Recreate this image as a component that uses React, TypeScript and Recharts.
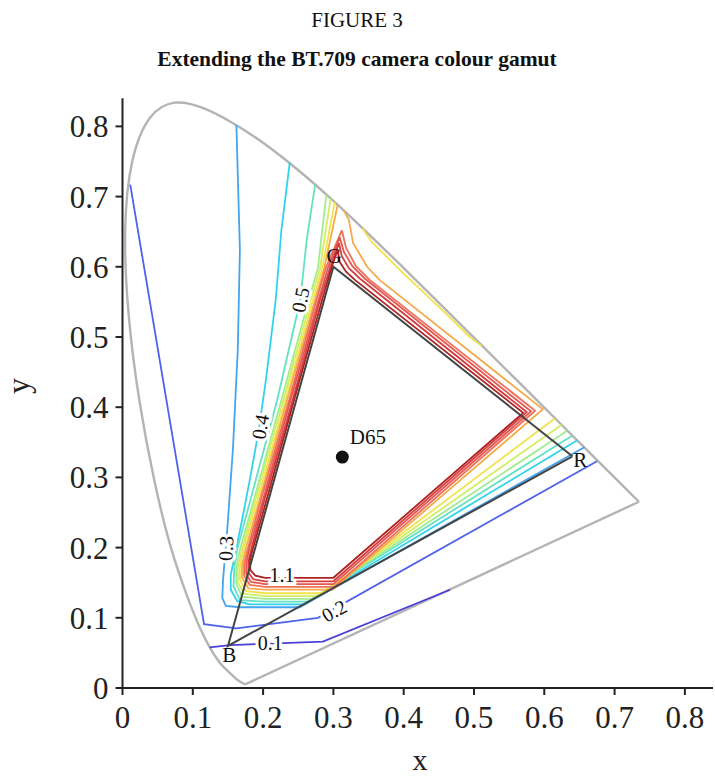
import { ComposedChart, Line, Scatter, XAxis, YAxis } from "recharts"

const serif = "'Liberation Serif', 'Times New Roman', serif"

const axisTicks = [0, 0.1, 0.2, 0.3, 0.4, 0.5, 0.6, 0.7, 0.8]

// CIE 1931 spectral locus, 380 nm -> 700 nm
const spectralLocus = [
  [0.1741, 0.005], [0.1644, 0.0109], [0.1566, 0.0177], [0.144, 0.0297], [0.1355, 0.0399],
  [0.1241, 0.0578], [0.1096, 0.0868], [0.0913, 0.1327], [0.0687, 0.2007], [0.0454, 0.295],
  [0.0235, 0.4127], [0.0082, 0.5384], [0.0039, 0.6548], [0.0139, 0.7502], [0.0389, 0.812],
  [0.0743, 0.8338], [0.1142, 0.8262], [0.1547, 0.8059], [0.1929, 0.7816], [0.2296, 0.7543],
  [0.2658, 0.7243], [0.3016, 0.6923], [0.3373, 0.6589], [0.3731, 0.6245], [0.4087, 0.5896],
  [0.4441, 0.5547], [0.4788, 0.5202], [0.5125, 0.4866], [0.5448, 0.4544], [0.5752, 0.4242],
  [0.6029, 0.3965], [0.627, 0.3725], [0.6482, 0.3514], [0.6658, 0.334], [0.6915, 0.3083],
  [0.719, 0.2809], [0.7347, 0.2653],
]
const purpleLine = [[0.7347, 0.2653], [0.1741, 0.005]]

const bt709 = [[0.64, 0.33], [0.3, 0.6], [0.15, 0.06], [0.64, 0.33]]
const whitePoint = [{ x: 0.3127, y: 0.329 }]

// contour lines
const c01 = [[0.124, 0.058], [0.153, 0.061], [0.228, 0.064], [0.285, 0.066], [0.466, 0.14]]
const c02 = [[0.011, 0.717], [0.116, 0.091], [0.162, 0.085], [0.278, 0.1], [0.675, 0.323]]
const c03 = [
  [0.162, 0.802], [0.167, 0.624], [0.164, 0.482], [0.157, 0.339], [0.149, 0.225], [0.143, 0.154],
  [0.142, 0.128], [0.147, 0.117], [0.167, 0.115], [0.252, 0.115], [0.657, 0.343],
]
const c04 = [
  [0.238, 0.749], [0.226, 0.652], [0.218, 0.553], [0.204, 0.439], [0.194, 0.368], [0.181, 0.296],
  [0.17, 0.239], [0.16, 0.19], [0.154, 0.161], [0.154, 0.14], [0.163, 0.124], [0.181, 0.119],
  [0.259, 0.119], [0.647, 0.353],
]
const c05 = [
  [0.274, 0.717], [0.262, 0.638], [0.253, 0.553], [0.22, 0.41], [0.182, 0.268], [0.163, 0.197],
  [0.159, 0.171], [0.158, 0.145], [0.167, 0.125], [0.203, 0.123], [0.263, 0.123], [0.639, 0.359],
]
const c06 = [
  [0.29, 0.703], [0.278, 0.598], [0.265, 0.553], [0.226, 0.41], [0.187, 0.268], [0.167, 0.197],
  [0.162, 0.171], [0.162, 0.148], [0.17, 0.13], [0.203, 0.127], [0.27, 0.127], [0.632, 0.366],
]
const c07 = [
  [0.296, 0.697], [0.281, 0.598], [0.268, 0.553], [0.229, 0.41], [0.189, 0.268], [0.17, 0.197],
  [0.164, 0.172], [0.164, 0.151], [0.173, 0.134], [0.203, 0.131], [0.277, 0.131], [0.625, 0.375],
]
const c08 = [
  [0.302, 0.692], [0.284, 0.598], [0.271, 0.553], [0.232, 0.41], [0.192, 0.268], [0.172, 0.197],
  [0.167, 0.174], [0.167, 0.154], [0.176, 0.138], [0.203, 0.135], [0.285, 0.135], [0.615, 0.384],
]
const c08b = [[0.341, 0.655], [0.355, 0.635], [0.395, 0.595], [0.452, 0.541], [0.494, 0.5], [0.511, 0.487]]
const c09 = [
  [0.306, 0.688], [0.287, 0.598], [0.274, 0.553], [0.234, 0.41], [0.195, 0.268], [0.175, 0.197],
  [0.17, 0.175], [0.17, 0.157], [0.179, 0.142], [0.203, 0.14], [0.299, 0.14], [0.598, 0.397],
  [0.366, 0.581], [0.348, 0.6], [0.328, 0.634], [0.322, 0.667], [0.315, 0.68],
]
const c095 = [
  [0.312, 0.652], [0.289, 0.598], [0.276, 0.553], [0.237, 0.41], [0.197, 0.268], [0.178, 0.197],
  [0.173, 0.177], [0.173, 0.16], [0.181, 0.147], [0.203, 0.144], [0.301, 0.144], [0.587, 0.395],
  [0.352, 0.581], [0.332, 0.601], [0.318, 0.627], [0.312, 0.652],
]
const c10 = [
  [0.309, 0.642], [0.292, 0.598], [0.279, 0.553], [0.239, 0.41], [0.2, 0.268], [0.18, 0.197],
  [0.176, 0.178], [0.176, 0.162], [0.183, 0.151], [0.203, 0.148], [0.3, 0.148], [0.581, 0.394],
  [0.345, 0.583], [0.327, 0.601], [0.315, 0.621], [0.309, 0.642],
]
const c105 = [
  [0.308, 0.634], [0.295, 0.598], [0.281, 0.553], [0.242, 0.41], [0.202, 0.268], [0.183, 0.197],
  [0.179, 0.18], [0.179, 0.165], [0.186, 0.155], [0.203, 0.152], [0.3, 0.152], [0.575, 0.393],
  [0.338, 0.583], [0.322, 0.598], [0.312, 0.615], [0.308, 0.634],
]
const c11 = [
  [0.306, 0.624], [0.297, 0.598], [0.284, 0.553], [0.244, 0.41], [0.205, 0.268], [0.185, 0.197],
  [0.181, 0.181], [0.182, 0.168], [0.189, 0.16], [0.203, 0.157], [0.3, 0.157], [0.57, 0.392],
  [0.331, 0.581], [0.318, 0.593], [0.309, 0.607], [0.306, 0.624],
]

const contours = [
  { level: "0.1", color: "#4a42d8", points: c01 },
  { level: "0.2", color: "#4e62ea", points: c02 },
  { level: "0.3", color: "#45a4ee", points: c03 },
  { level: "0.4", color: "#30d2ee", points: c04 },
  { level: "0.5", color: "#62e2c2", points: c05 },
  { level: "0.6", color: "#a0ec8e", points: c06 },
  { level: "0.7", color: "#d2ee62", points: c07 },
  { level: "0.8", color: "#f3e24c", points: c08 },
  { level: "0.8b", color: "#f3e24c", points: c08b },
  { level: "0.9", color: "#f5aa4c", points: c09 },
  { level: "0.95", color: "#ee7058", points: c095 },
  { level: "1.0", color: "#e45652", points: c10 },
  { level: "1.05", color: "#d63e3e", points: c105 },
  { level: "1.1", color: "#b02222", points: c11 },
]

const contourLabels = [
  { text: "0.1", x: 0.21, y: 0.064 },
  { text: "0.2", x: 0.301, y: 0.11 },
  { text: "0.3", x: 0.147, y: 0.199 },
  { text: "0.4", x: 0.196, y: 0.372 },
  { text: "0.5", x: 0.253, y: 0.553 },
  { text: "1.1", x: 0.227, y: 0.161 },
]
const labelAngle: Record<string, number> = { "0.1": 0, "0.2": -29, "0.3": -87, "0.4": -80, "0.5": -79, "1.1": 0 }

const primaryLabels = [
  { text: "G", x: 0.301, y: 0.615 },
  { text: "B", x: 0.152, y: 0.047 },
  { text: "R", x: 0.651, y: 0.325 },
  { text: "D65", x: 0.349, y: 0.358 },
]

const toXY = (pts: number[][]) => pts.map(([x, y]) => ({ x, y }))

const ContourLabel = (props: any) => {
  const { cx, cy, payload } = props
  const angle = labelAngle[payload.text] ?? 0
  return (
    <text
      x={cx}
      y={cy}
      transform={`rotate(${angle} ${cx} ${cy})`}
      textAnchor="middle"
      dominantBaseline="central"
      fontSize={20}
      fontFamily={serif}
      fill="#111"
      stroke="#fff"
      strokeWidth={6}
      paintOrder="stroke"
    >
      {payload.text}
    </text>
  )
}

const PrimaryLabel = (props: any) => {
  const { cx, cy, payload } = props
  return (
    <text x={cx} y={cy} textAnchor="middle" dominantBaseline="central" fontSize={21} fontFamily={serif} fill="#111">
      {payload.text}
    </text>
  )
}

const Dot = (props: any) => <circle cx={props.cx} cy={props.cy} r={6.5} fill="#111" />

const fmt = (v: number) => (v === 0 ? "0" : v.toFixed(1))

export default function App() {
  const tickStyle = { fontSize: 31, fontFamily: serif, fill: "#222" }
  return (
    <div style={{ position: "absolute", left: 0, top: 0, width: 715, height: 778, background: "#fff" }}>
      <svg width={715} height={778} style={{ position: "absolute", left: 0, top: 0 }}>
        <text x={357} y={27} textAnchor="middle" fontSize={21} fontFamily={serif} fill="#111">
          FIGURE 3
        </text>
        <text x={357} y={66} textAnchor="middle" fontSize={21.5} fontWeight="bold" fontFamily={serif} fill="#111">
          Extending the BT.709 camera colour gamut
        </text>
        <text x={420} y={770} textAnchor="middle" fontSize={30} fontFamily={serif} fill="#222">
          x
        </text>
        <text x={29} y={386} textAnchor="middle" fontSize={32} fontFamily={serif} fill="#222" transform="rotate(-90 29 386)">
          y
        </text>
      </svg>
      <div style={{ position: "absolute", left: 0, top: 0 }}>
        <ComposedChart width={715} height={778} margin={{ top: 98.3, right: 2, bottom: 40, left: 52.5 }}>
          <XAxis
            dataKey="x"
            type="number"
            domain={[0, 0.84]}
            ticks={axisTicks}
            tickFormatter={fmt}
            height={50}
            tick={tickStyle}
            tickSize={7}
            tickMargin={11}
            stroke="#222"
            strokeWidth={2}
            allowDataOverflow
          />
          <YAxis
            dataKey="y"
            type="number"
            domain={[0, 0.84]}
            ticks={axisTicks}
            tickFormatter={fmt}
            width={70}
            tick={tickStyle}
            tickSize={7}
            tickMargin={7}
            stroke="#222"
            strokeWidth={2}
            allowDataOverflow
          />
          <Line data={toXY(spectralLocus)} dataKey="y" type="natural" stroke="#b4b4b4" strokeWidth={2.4} dot={false} activeDot={false} isAnimationActive={false} />
          <Line data={toXY(purpleLine)} dataKey="y" type="linear" stroke="#b4b4b4" strokeWidth={2.4} dot={false} activeDot={false} isAnimationActive={false} />
          {contours.map((c) => (
            <Line
              key={c.level}
              data={toXY(c.points)}
              dataKey="y"
              type="linear"
              stroke={c.color}
              strokeWidth={1.8}
              dot={false}
              activeDot={false}
              isAnimationActive={false}
            />
          ))}
          <Line data={toXY(bt709)} dataKey="y" type="linear" stroke="#444" strokeWidth={2} dot={false} activeDot={false} isAnimationActive={false} />
          <Scatter data={whitePoint} shape={Dot} isAnimationActive={false} />
          <Scatter data={contourLabels} shape={ContourLabel} isAnimationActive={false} />
          <Scatter data={primaryLabels} shape={PrimaryLabel} isAnimationActive={false} />
        </ComposedChart>
      </div>
    </div>
  )
}
